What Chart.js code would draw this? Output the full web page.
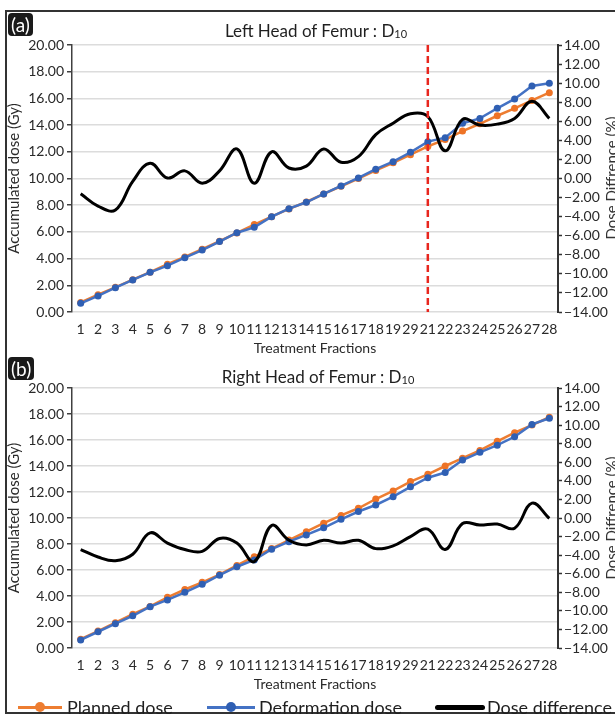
<!DOCTYPE html>
<html>
<head>
<meta charset="utf-8">
<script src="https://cdn.jsdelivr.net/npm/chart.js@4.4.1/dist/chart.umd.min.js"></script>
<style>
  html, body { margin:0; padding:0; background:#fff; }
  #wrap { position:relative; width:615px; height:716px; overflow:hidden; background:#fff; font-family: Lato, "Open Sans", sans-serif; }
  #frame { position:absolute; left:5px; top:10px; width:620px; height:704px; border-left:2px solid #333; border-top:2px solid #333; border-bottom:2px solid #333; box-sizing:border-box; }
  canvas { position:absolute; left:0; }
  .tag { position:absolute; background:#1a1a1a; color:#fff; border-radius:4px; font-size:19px; line-height:23px; padding:0 3px; }
  .ttl { position:absolute; font-size:17px; color:#1f1f1f; white-space:nowrap; transform:translateX(-50%); }
  .ttl sub { font-size:11px; vertical-align:baseline; position:relative; top:1px; }
  .rtitle { position:absolute; font-size:15px; color:#333; white-space:nowrap; transform:translate(-50%,-50%) rotate(-90deg); }
  .leg { position:absolute; top:697px; font-size:18px; color:#1f1f1f; white-space:nowrap; line-height:20px; }
  .lline { position:absolute; height:3px; }
  .ldot { position:absolute; width:10px; height:10px; border-radius:50%; }
</style>
</head>
<body>
<div id="wrap">
  <canvas id="ca" width="615" height="355" style="top:0"></canvas>
  <canvas id="cb" width="615" height="336" style="top:355px"></canvas>
  <div id="frame"></div>
  <div class="tag" style="left:8px; top:13px;">(a)</div>
  <div class="tag" style="left:8px; top:357px;">(b)</div>
  <div class="ttl" style="left:316px; top:20px;">Left Head of Femur : D<sub>10</sub></div>
  <div class="ttl" style="left:318px; top:366px;">Right Head of Femur : D<sub>10</sub></div>
  <div class="rtitle" style="left:611px; top:178px;">Dose Diffrence (%)</div>
  <div class="rtitle" style="left:611px; top:518px;">Dose Diffrence (%)</div>
  <div class="lline" style="left:18px; top:706px; width:44px; background:#ED7D31;"></div>
  <div class="ldot" style="left:35px; top:702px; background:#ED7D31;"></div>
  <div class="leg" style="left:67px;">Planned dose</div>
  <div class="lline" style="left:207px; top:706px; width:48px; background:#4472C4;"></div>
  <div class="ldot" style="left:226px; top:702px; background:#2F5FB3;"></div>
  <div class="leg" style="left:259px;">Deformation dose</div>
  <div class="lline" style="left:435px; top:705px; width:50px; height:5px; border-radius:3px; background:#000;"></div>
  <div class="leg" style="left:487px;">Dose difference</div>
</div>
<script>
// ---- data ----
const fractions = ['1','2','3','4','5','6','7','8','9','10','11','12','13','14','15','16','17','18','19','29','21','22','23','24','25','26','27','28'];

const plannedA = [0.72,1.30,1.85,2.42,2.98,3.58,4.12,4.70,5.30,5.92,6.55,7.14,7.72,8.24,8.84,9.42,10.00,10.60,11.18,11.78,12.40,12.92,13.55,14.10,14.70,15.26,15.85,16.43];
const deformA  = [0.65,1.20,1.82,2.40,2.97,3.47,4.07,4.64,5.28,5.94,6.34,7.14,7.74,8.22,8.84,9.44,10.04,10.70,11.26,11.96,12.76,13.06,14.13,14.50,15.26,15.96,16.93,17.13];
const diffA    = [-1.6,-2.9,-3.3,-0.3,1.6,0.05,0.8,-0.5,0.8,3.1,-0.5,2.8,1.1,1.3,3.1,1.7,2.3,4.6,5.8,6.8,6.5,2.9,6.2,5.6,5.7,6.3,8.1,6.3];

const plannedB = [0.68,1.30,1.95,2.60,3.20,3.90,4.50,5.05,5.65,6.35,7.02,7.65,8.30,8.95,9.60,10.20,10.75,11.46,12.08,12.80,13.36,14.00,14.60,15.20,15.90,16.56,17.15,17.75];
const deformB  = [0.62,1.25,1.87,2.48,3.18,3.70,4.28,4.90,5.60,6.25,6.77,7.60,8.18,8.70,9.25,9.90,10.50,11.00,11.64,12.40,13.10,13.50,14.46,15.05,15.60,16.25,17.20,17.67];
const diffB    = [-3.4,-4.2,-4.6,-3.9,-1.6,-2.7,-3.4,-3.6,-2.2,-2.7,-4.7,-0.8,-2.4,-2.9,-2.4,-2.7,-2.4,-3.3,-3.0,-2.0,-1.2,-3.4,-0.6,-0.75,-0.65,-1.1,1.6,-0.05];

const doseTicks = { min: 0, max: 20, step: 2 };
const diffTicks = { min: -14, max: 14, step: 2 };
const markerFraction = '21';

// ---- chart ----
const FONT = 'Lato, "Open Sans", sans-serif';
const TXT = '#2a2a2a';
const fmt = v => (v < 0 ? '\u2212' : '') + Math.abs(v).toFixed(2);

const vlinePlugin = {
  id: 'vline',
  afterDatasetsDraw(chart) {
    const idx = fractions.indexOf(markerFraction);
    const x = chart.scales.x.getPixelForValue(idx);
    const {top, bottom} = chart.chartArea;
    const ctx = chart.ctx;
    ctx.save();
    ctx.strokeStyle = '#E8261E';
    ctx.lineWidth = 2.5;
    ctx.setLineDash([7, 4]);
    ctx.beginPath();
    ctx.moveTo(x, top);
    ctx.lineTo(x, bottom);
    ctx.stroke();
    ctx.restore();
  }
};

function makeChart(id, planned, deform, diff, padTop, extraPlugins) {
  return new Chart(document.getElementById(id), {
    type: 'line',
    data: {
      labels: fractions,
      datasets: [
        { label: 'Dose difference', data: diff, yAxisID: 'y1', borderColor: '#000', borderWidth: 3,
          pointRadius: 0, tension: 0.4, order: 0 },
        { label: 'Deformation dose', data: deform, yAxisID: 'y', borderColor: '#4472C4', backgroundColor: '#2F5FB3',
          borderWidth: 2.5, pointRadius: 3.5, pointBorderWidth: 0, tension: 0, order: 1 },
        { label: 'Planned dose', data: planned, yAxisID: 'y', borderColor: '#ED7D31', backgroundColor: '#EE7326',
          borderWidth: 2.5, pointRadius: 3.5, pointBorderWidth: 0, tension: 0, order: 2 }
      ]
    },
    options: {
      responsive: false,
      devicePixelRatio: 1,
      animation: false,
      layout: { padding: { top: padTop, left: 0, right: 0, bottom: 0 } },
      plugins: { legend: { display: false }, tooltip: { enabled: false }, title: { display: false } },
      scales: {
        x: {
          offset: true,
          grid: { display: false },
          border: { display: false },
          ticks: { autoSkip: false, maxRotation: 0, minRotation: 0, padding: 1, color: TXT, font: { family: FONT, size: 14 } },
          title: { display: true, text: 'Treatment Fractions', color: TXT, padding: { top: 0, bottom: -2 }, font: { family: FONT, size: 14 } },
          afterFit: s => { s.height = 43; }
        },
        y: {
          position: 'left',
          min: doseTicks.min, max: doseTicks.max,
          ticks: { stepSize: doseTicks.step, autoSkip: false, padding: 3, color: TXT, font: { family: FONT, size: 14 }, callback: v => fmt(v) },
          grid: { color: '#dcdcdc', lineWidth: 1.5, tickColor: '#404040', tickLength: 5, tickWidth: 1.5 },
          border: { color: '#404040', width: 1.5 },
          title: { display: true, text: 'Accumulated dose (Gy)', color: TXT, padding: { top: 5, bottom: 0 }, font: { family: FONT, size: 15 } },
          afterFit: s => { s.width = 72; }
        },
        y1: {
          position: 'right',
          min: diffTicks.min, max: diffTicks.max,
          ticks: { stepSize: diffTicks.step, autoSkip: false, padding: 2, color: TXT, font: { family: FONT, size: 14 }, callback: v => fmt(v) },
          grid: { drawOnChartArea: false, tickColor: '#333', tickLength: 4, tickWidth: 1.5 },
          border: { color: '#333', width: 2 },
          afterFit: s => { s.width = 57; }
        }
      }
    },
    plugins: extraPlugins
  });
}

makeChart('ca', plannedA, deformA, diffA, 45, [vlinePlugin]);
makeChart('cb', plannedB, deformB, diffB, 33, []);
</script>
</body>
</html>
